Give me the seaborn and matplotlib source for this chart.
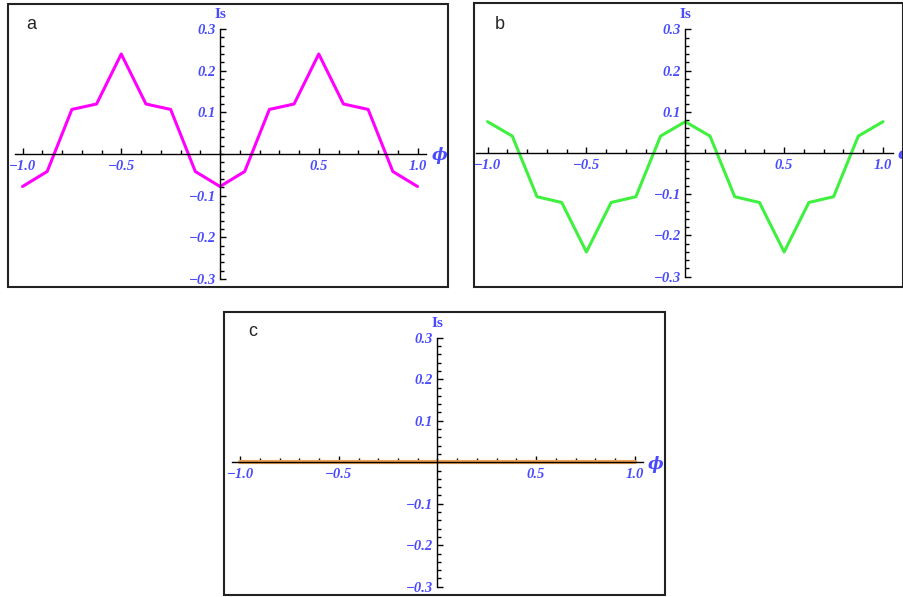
import numpy as np
import matplotlib
matplotlib.use("Agg")
import matplotlib.pyplot as plt
import seaborn as sns
from matplotlib.patches import Rectangle
from matplotlib.ticker import FixedLocator, MultipleLocator

sns.set_style("white")

# phase values (step 1/8) and supercurrent
phi = [-1.0, -0.875, -0.75, -0.625, -0.5, -0.375, -0.25, -0.125, 0.0,
       0.125, 0.25, 0.375, 0.5, 0.625, 0.75, 0.875, 1.0]
Is_a = [-0.078, -0.042, 0.107, 0.120, 0.240, 0.120, 0.107, -0.042, -0.078,
        -0.042, 0.107, 0.120, 0.240, 0.120, 0.107, -0.042, -0.078]
Is_b = [0.076, 0.041, -0.106, -0.120, -0.240, -0.120, -0.106, 0.041, 0.076,
        0.041, -0.106, -0.120, -0.240, -0.120, -0.106, 0.041, 0.076]
Is_c = [0.0] * len(phi)

xticks = [-1.0, -0.5, 0.5, 1.0]
xticklabels = ["\u22121.0", "\u22120.5", "0.5", "1.0"]
yticks = [-0.3, -0.2, -0.1, 0.1, 0.2, 0.3]
yticklabels = ["\u22120.3", "\u22120.2", "\u22120.1", "0.1", "0.2", "0.3"]

W, H = 904, 597
fig = plt.figure(figsize=(W / 100, H / 100), dpi=100)

blue = "#4a4aff"
tickfont = dict(family=["Liberation Serif", "DejaVu Serif"], weight="bold",
                style="italic", size=10.5, color=blue)


def px_axes(left, top, right, bottom):
    return fig.add_axes([left / W, 1 - bottom / H, (right - left) / W, (bottom - top) / H])


def frame(left, top, right, bottom):
    fig.patches.append(Rectangle((left / W, 1 - bottom / H), (right - left) / W,
                                 (bottom - top) / H, transform=fig.transFigure,
                                 fill=False, lw=1.5, ec="#222222"))


def panel(box, axbox, xlim, y, color, lw, letter, letterpos):
    frame(*box)
    ax = px_axes(*axbox)
    ax.patch.set_alpha(0)
    sns.lineplot(x=phi, y=y, ax=ax, color=color, lw=lw, clip_on=False, zorder=2)
    ax.set_xlim(*xlim)
    ax.set_ylim(-0.3, 0.3)
    for s in ["top", "right"]:
        ax.spines[s].set_visible(False)
    ax.spines["left"].set_position(("data", 0))
    ax.spines["bottom"].set_position(("data", 0))
    for s in ["left", "bottom"]:
        ax.spines[s].set_color("black")
        ax.spines[s].set_linewidth(1.0)
        ax.spines[s].set_zorder(3)
    ax.xaxis.set_major_locator(FixedLocator(xticks))
    ax.xaxis.set_minor_locator(MultipleLocator(0.1))
    ax.yaxis.set_major_locator(FixedLocator(yticks))
    ax.yaxis.set_minor_locator(MultipleLocator(0.02))
    ax.set_xticklabels(xticklabels, fontdict=tickfont)
    ax.set_yticklabels(yticklabels, fontdict=tickfont)
    ax.tick_params(which="both", bottom=True, left=True, top=False, right=False)
    ax.tick_params(which="major", direction="in", length=4.5, width=1, color="black")
    ax.tick_params(which="minor", direction="in", length=3, width=1, color="black")
    ax.tick_params(axis="x", which="major", pad=4)
    ax.tick_params(axis="y", which="major", pad=3)
    ax.set_xlabel("")
    ax.set_ylabel("")
    ax.annotate("Is", xy=(0, 0.3), xytext=(0, 8), textcoords="offset pixels",
                ha="center", va="bottom", color=blue, fontsize=11, weight="bold",
                family=["Liberation Serif", "DejaVu Serif"], annotation_clip=False)
    ax.annotate("\u03d5", xy=(xlim[1], 0), xytext=(5, -2), textcoords="offset pixels",
                ha="left", va="center", color=blue, fontsize=12, weight="bold",
                style="italic", family=["DejaVu Serif"], annotation_clip=False)
    fig.text(letterpos[0] / W, 1 - letterpos[1] / H, letter, fontsize=13,
             family=["Liberation Sans", "DejaVu Sans"], ha="left", va="baseline")
    return ax


panel((8, 4, 448, 287), (14.6, 29, 426.4, 279), (-1.04, 1.045), Is_a,
      "#ff00ff", 2.2, "a", (26, 29))
panel((474, 3, 903, 287), (475.7, 29.3, 892.9, 276.7), (-1.06, 1.05), Is_b,
      "#3ff03f", 2.2, "b", (495, 29))
panel((224, 312, 665, 595), (231.7, 337.7, 642.7, 586.7), (-1.043, 1.04), Is_c,
      "#f0a050", 3.0, "c", (248, 336))

fig.savefig("out.png", dpi=100)
